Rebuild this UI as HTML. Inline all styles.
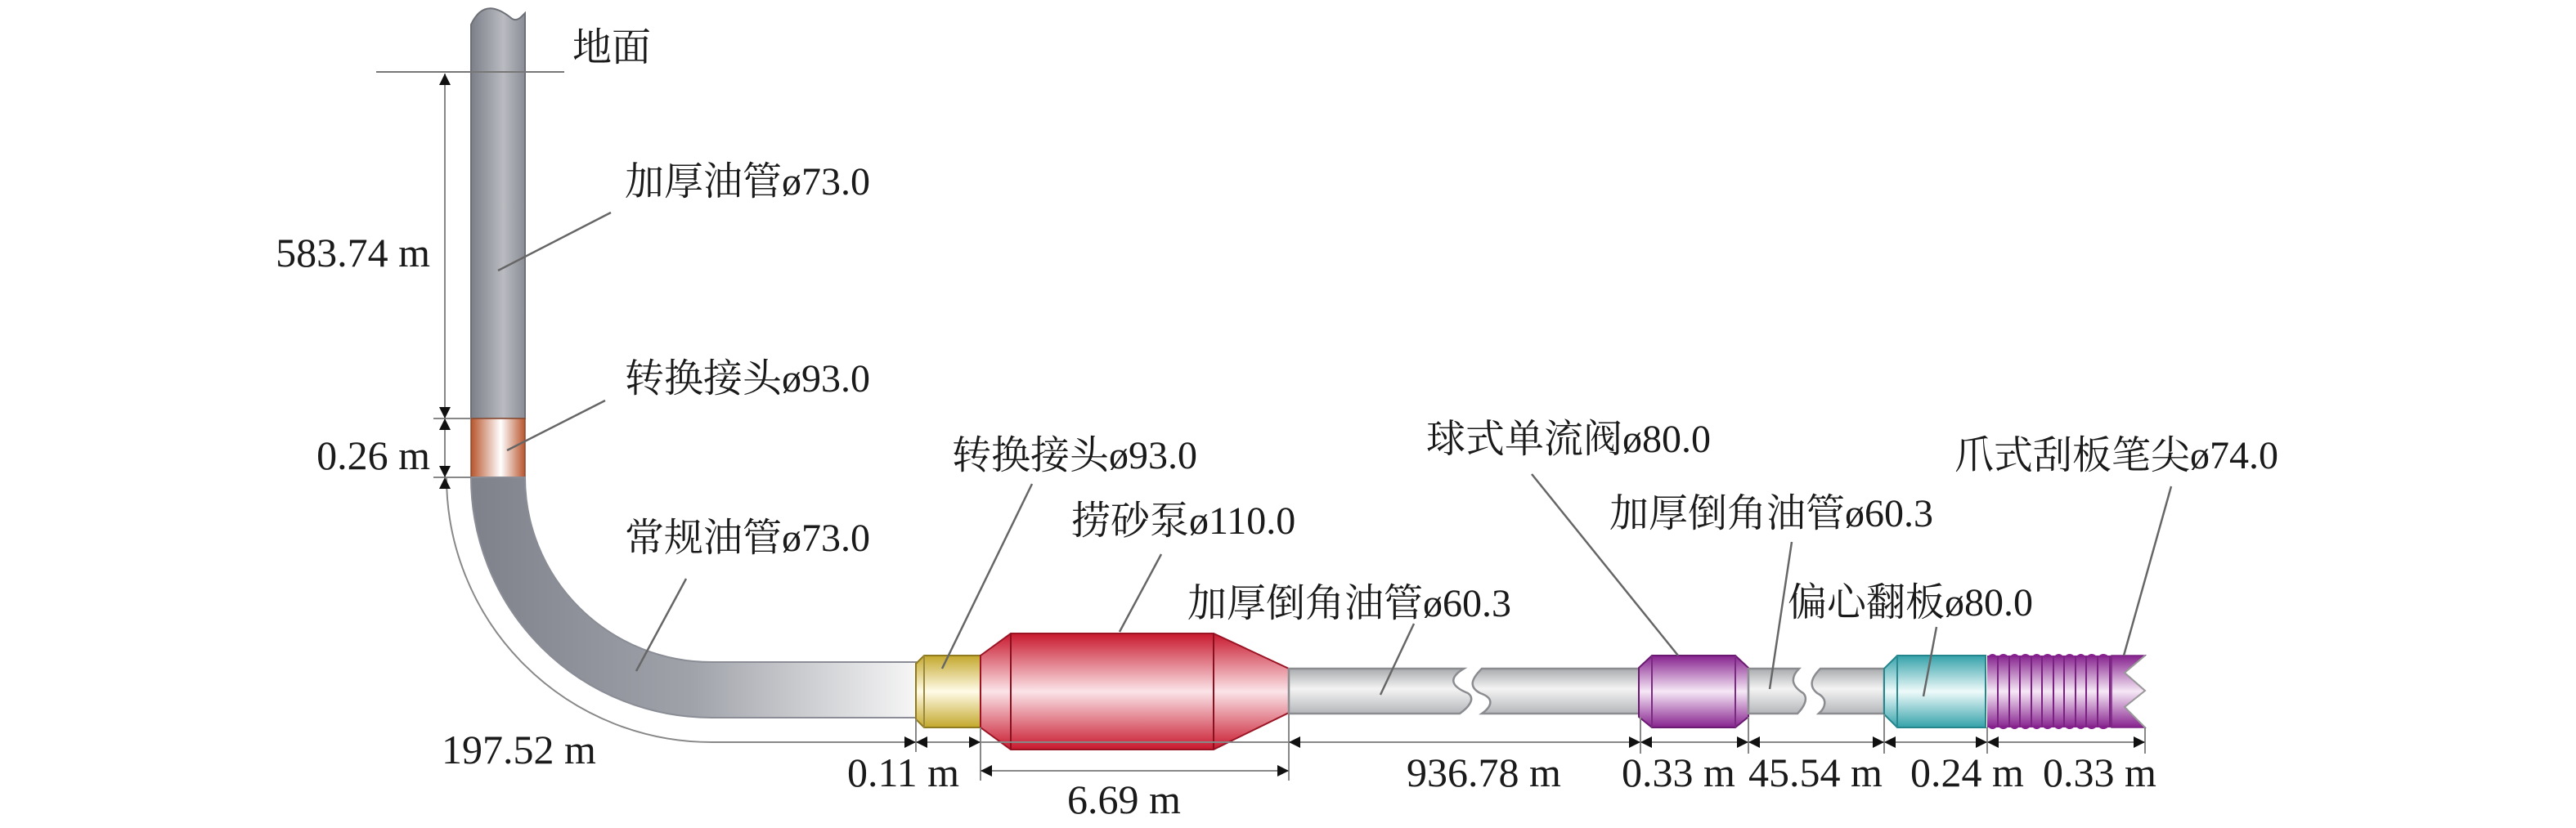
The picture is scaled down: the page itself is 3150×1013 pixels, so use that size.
<!DOCTYPE html>
<html><head><meta charset="utf-8"><style>
html,body{margin:0;padding:0;background:#fff;}
svg{display:block;}
text{font-family:"Liberation Serif","Times New Roman","Noto Serif CJK SC","Noto Sans CJK SC",serif;fill:#1a1a1a;}
</style></head><body>
<svg width="3150" height="1013" viewBox="0 0 3150 1013" xmlns="http://www.w3.org/2000/svg">
<defs>
<linearGradient id="vp" x1="0" y1="0" x2="1" y2="0">
<stop offset="0" stop-color="#7c7f88"/><stop offset="0.6" stop-color="#b9bbc1"/><stop offset="1" stop-color="#8a8d95"/></linearGradient>
<linearGradient id="bend" gradientUnits="userSpaceOnUse" x1="576" y1="0" x2="1120" y2="0">
<stop offset="0" stop-color="#7e818a"/><stop offset="0.5" stop-color="#a0a3aa"/><stop offset="1" stop-color="#f6f6f6"/></linearGradient>
<linearGradient id="cu" x1="0" y1="0" x2="1" y2="0">
<stop offset="0" stop-color="#b8552c"/><stop offset="0.55" stop-color="#ffffff"/><stop offset="1" stop-color="#b8552c"/></linearGradient>
<linearGradient id="tp" x1="0" y1="0" x2="0" y2="1">
<stop offset="0" stop-color="#a9abae"/><stop offset="0.45" stop-color="#f4f4f4"/><stop offset="1" stop-color="#b4b6b9"/></linearGradient>
<linearGradient id="ye" x1="0" y1="0" x2="0" y2="1">
<stop offset="0" stop-color="#c4a82c"/><stop offset="0.5" stop-color="#fffbe8"/><stop offset="1" stop-color="#c4a82c"/></linearGradient>
<linearGradient id="rd" x1="0" y1="0" x2="0" y2="1">
<stop offset="0" stop-color="#c8192e"/><stop offset="0.5" stop-color="#fbe4e8"/><stop offset="1" stop-color="#c8192e"/></linearGradient>
<linearGradient id="pu" x1="0" y1="0" x2="0" y2="1">
<stop offset="0" stop-color="#86228e"/><stop offset="0.5" stop-color="#f6e8f6"/><stop offset="1" stop-color="#86228e"/></linearGradient>
<linearGradient id="te" x1="0" y1="0" x2="0" y2="1">
<stop offset="0" stop-color="#34a2aa"/><stop offset="0.5" stop-color="#effafa"/><stop offset="1" stop-color="#34a2aa"/></linearGradient>
</defs>

<path d="M576,30 C590,0 610,10 625,22 C632,28 638,20 642,16 L642,512 L576,512 Z" fill="url(#vp)" stroke="#6e7078" stroke-width="2"/>
<rect x="576" y="512" width="66" height="72" fill="url(#cu)" stroke="#8a4a30" stroke-width="1.5"/>
<path d="M576,584 L642,584 A228,226 0 0 0 870,810 L1120,810 L1120,878 L870,878 A294,294 0 0 1 576,584 Z" fill="url(#bend)" stroke="#8a8d95" stroke-width="2"/>

<path d="M1120,812 L1130,802 L1199,802 L1199,890 L1130,890 L1120,880 Z" fill="url(#ye)" stroke="#8f7a20" stroke-width="2"/>
<line x1="1130" y1="802" x2="1130" y2="890" stroke="#9a8a40" stroke-width="2"/>
<path d="M1199,802 L1236,775 L1484,775 L1576,818 L1576,872 L1484,917 L1236,917 L1199,890 Z" fill="url(#rd)" stroke="#9a1424" stroke-width="2"/>
<line x1="1236" y1="775" x2="1236" y2="917" stroke="#8a1020" stroke-width="2"/>
<line x1="1484" y1="775" x2="1484" y2="917" stroke="#8a1020" stroke-width="2"/>
<path d="M1576,818 L1790,818 C1770,830 1775,840 1795,848 C1805,855 1795,866 1785,873 L1576,873 Z" fill="url(#tp)" stroke="#8a8c90" stroke-width="2.5"/>
<path d="M1812,818 L2007,818 L2007,873 L1812,873 C1822,866 1830,855 1810,848 C1795,840 1800,830 1812,818 Z" fill="url(#tp)" stroke="#8a8c90" stroke-width="2.5"/>
<path d="M2004,817 L2020,802 L2122,802 L2138,817 L2138,877 L2122,890 L2020,890 L2004,877 Z" fill="url(#pu)" stroke="#6a1a70" stroke-width="2"/>
<line x1="2020" y1="802" x2="2020" y2="890" stroke="#7a2a80" stroke-width="2"/>
<line x1="2122" y1="802" x2="2122" y2="890" stroke="#7a2a80" stroke-width="2"/>
<path d="M2138,818 L2200,818 C2188,830 2192,840 2205,848 C2212,855 2205,866 2198,873 L2138,873 Z" fill="url(#tp)" stroke="#8a8c90" stroke-width="2.5"/>
<path d="M2226,818 L2304,818 L2304,873 L2224,873 C2232,866 2236,855 2222,848 C2212,840 2214,830 2226,818 Z" fill="url(#tp)" stroke="#8a8c90" stroke-width="2.5"/>
<path d="M2304,818 L2320,802 L2428,802 L2428,890 L2320,890 L2304,874 Z" fill="url(#te)" stroke="#24868c" stroke-width="2"/>
<line x1="2320" y1="802" x2="2320" y2="890" stroke="#2a8a90" stroke-width="2"/>
<rect x="2430" y="802" width="152" height="88" fill="url(#pu)"/>
<g stroke="#7a2282" stroke-width="2">
<line x1="2443" y1="802" x2="2443" y2="890"/><line x1="2457" y1="802" x2="2457" y2="890"/><line x1="2470" y1="802" x2="2470" y2="890"/><line x1="2484" y1="802" x2="2484" y2="890"/><line x1="2497" y1="802" x2="2497" y2="890"/><line x1="2511" y1="802" x2="2511" y2="890"/><line x1="2524" y1="802" x2="2524" y2="890"/><line x1="2538" y1="802" x2="2538" y2="890"/><line x1="2551" y1="802" x2="2551" y2="890"/><line x1="2565" y1="802" x2="2565" y2="890"/><line x1="2580" y1="802" x2="2580" y2="890"/>
</g>
<path d="M2430,804 q6.5,-8 13,0 q6.5,-8 14,0 q6.5,-8 13,0 q6.5,-8 14,0 q6.5,-8 13,0 q6.5,-8 14,0 q6.5,-8 13,0 q6.5,-8 14,0 q6.5,-8 13,0 q6.5,-8 14,0 q6.5,-8 15,0" fill="#86228e"/>
<path d="M2430,888 q6.5,8 13,0 q6.5,8 14,0 q6.5,8 13,0 q6.5,8 14,0 q6.5,8 13,0 q6.5,8 14,0 q6.5,8 13,0 q6.5,8 14,0 q6.5,8 13,0 q6.5,8 14,0 q6.5,8 15,0" fill="#86228e"/>
<path d="M2582,802 L2623,802 L2598,823 L2623,845 L2598,865 L2623,890 L2582,890 Z" fill="url(#pu)" stroke="#7a2282" stroke-width="1.5"/>
<path d="M2623,802 L2598,823 L2623,845 L2598,865 L2623,890" fill="none" stroke="#999" stroke-width="2"/>

<line x1="460" y1="88" x2="690" y2="88" stroke="#777" stroke-width="2"/>
<g stroke="#888" stroke-width="2" fill="none">
<line x1="544" y1="90" x2="544" y2="584"/>
<line x1="530" y1="512" x2="576" y2="512"/>
<line x1="530" y1="584" x2="576" y2="584"/>
<path d="M546,584 A324,324 0 0 0 870,908 L2623,908"/>
<line x1="1120" y1="880" x2="1120" y2="920"/>
<line x1="1199" y1="890" x2="1199" y2="955"/>
<line x1="1576" y1="873" x2="1576" y2="955"/>
<line x1="1199" y1="943" x2="1576" y2="943"/>
<line x1="2006" y1="877" x2="2006" y2="922"/>
<line x1="2138" y1="877" x2="2138" y2="922"/>
<line x1="2304" y1="874" x2="2304" y2="922"/>
<line x1="2430" y1="890" x2="2430" y2="922"/>
<line x1="2623" y1="890" x2="2623" y2="922"/>
</g>
<g fill="#111">
<polygon points="544,90 537,104 551,104"/>
<polygon points="544,512 537,498 551,498"/><polygon points="544,512 537,526 551,526"/>
<polygon points="544,584 537,570 551,570"/><polygon points="544,584 537,598 551,598"/>
<polygon points="1120,908 1106,901 1106,915"/><polygon points="1120,908 1134,901 1134,915"/>
<polygon points="1199,908 1185,901 1185,915"/>
<polygon points="1199,943 1213,936 1213,950"/><polygon points="1576,943 1562,936 1562,950"/>
<polygon points="1576,908 1590,901 1590,915"/>
<polygon points="2006,908 1992,901 1992,915"/><polygon points="2006,908 2020,901 2020,915"/>
<polygon points="2138,908 2124,901 2124,915"/><polygon points="2138,908 2152,901 2152,915"/>
<polygon points="2304,908 2290,901 2290,915"/><polygon points="2304,908 2318,901 2318,915"/>
<polygon points="2430,908 2416,901 2416,915"/><polygon points="2430,908 2444,901 2444,915"/>
<polygon points="2623,908 2609,901 2609,915"/>
</g>

<g stroke="#666" stroke-width="2.5">
<line x1="747" y1="260" x2="609" y2="331"/>
<line x1="740" y1="490" x2="620" y2="551"/>
<line x1="839" y1="708" x2="778" y2="821"/>
<line x1="1262" y1="592" x2="1152" y2="818"/>
<line x1="1420" y1="678" x2="1369" y2="773"/>
<line x1="1729" y1="763" x2="1688" y2="850"/>
<line x1="1873" y1="580" x2="2052" y2="802"/>
<line x1="2191" y1="663" x2="2164" y2="843"/>
<line x1="2368" y1="767" x2="2352" y2="852"/>
<line x1="2655" y1="595" x2="2597" y2="802"/>
</g>

<g font-size="48" font-family="Liberation Serif, Noto Serif CJK SC, Noto Sans CJK SC, serif">
<text x="700" y="74">地面</text>
<text x="764" y="238">加厚油管ø73.0</text>
<text x="764" y="479">转换接头ø93.0</text>
<text x="764" y="674">常规油管ø73.0</text>
<text x="1164" y="573">转换接头ø93.0</text>
<text x="1310" y="653">捞砂泵ø110.0</text>
<text x="1452" y="754">加厚倒角油管ø60.3</text>
<text x="1744" y="553">球式单流阀ø80.0</text>
<text x="1968" y="644">加厚倒角油管ø60.3</text>
<text x="2186" y="753">偏心翻板ø80.0</text>
<text x="2390" y="573">爪式刮板笔尖ø74.0</text>
</g>
<g font-size="50" font-family="Liberation Serif, serif">
<text x="526" y="326" text-anchor="end">583.74 m</text>
<text x="526" y="574" text-anchor="end">0.26 m</text>
<text x="540" y="934">197.52 m</text>
<text x="1036" y="962">0.11 m</text>
<text x="1305" y="995">6.69 m</text>
<text x="1720" y="962">936.78 m</text>
<text x="1983" y="962">0.33 m</text>
<text x="2138" y="962">45.54 m</text>
<text x="2336" y="962">0.24 m</text>
<text x="2498" y="962">0.33 m</text>
</g>
</svg>
</body></html>
